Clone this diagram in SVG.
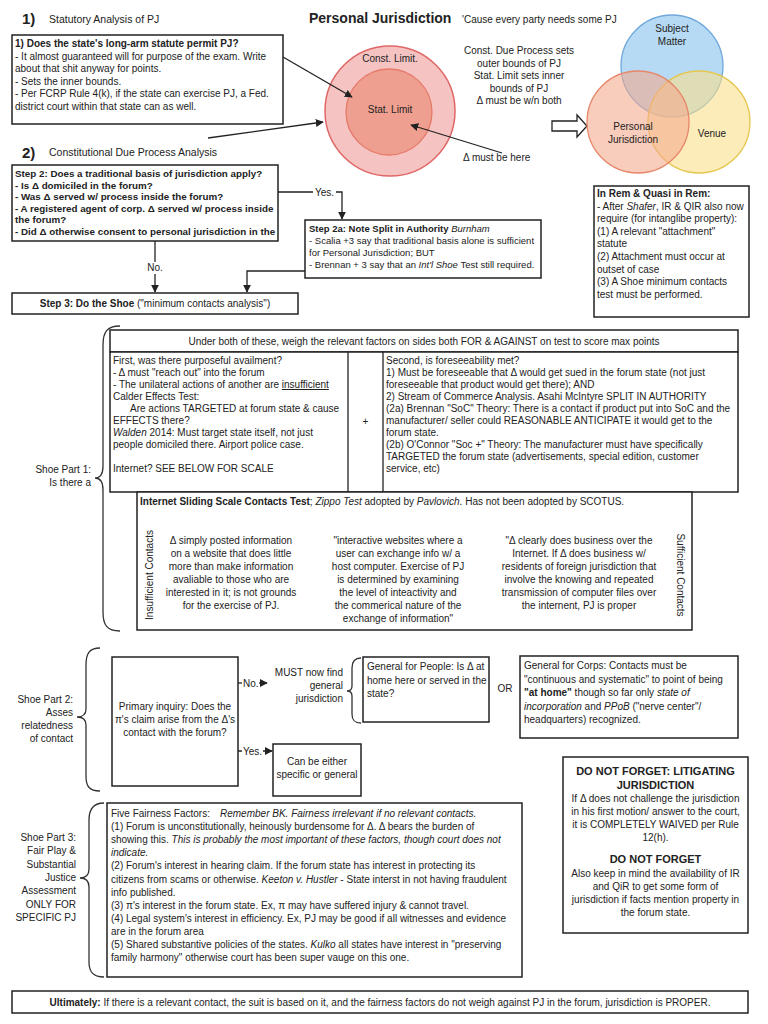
<svg xmlns="http://www.w3.org/2000/svg" width="768" height="1024" viewBox="0 0 768 1024">
<defs>
<style>
text{font-family:"Liberation Sans",Arial,sans-serif;font-size:10px;fill:#222}
.b{font-weight:bold}
.i{font-style:italic}
.c{text-anchor:middle}
.r{text-anchor:end}
.u{text-decoration:underline}
.s2{font-size:9.8px;font-weight:bold}
.s2a{font-size:9.5px}
.box{fill:#fff;stroke:#222;stroke-width:1.5}
.ln{fill:none;stroke:#222;stroke-width:1.3}
.br{fill:none;stroke:#333;stroke-width:1.3}
.bg{fill:#fff}
</style>
<marker id="ah" viewBox="0 0 10 10" refX="9" refY="5" markerWidth="8" markerHeight="8" markerUnits="userSpaceOnUse" orient="auto"><path d="M0,0 L10,5 L0,10 z" fill="#222"/></marker>
</defs>
<rect width="768" height="1024" fill="#fff"/>

<g id="title">
<text x="309" y="23" class="b" style="font-size:14px">Personal Jurisdiction</text>
<text x="462" y="23">'Cause every party needs some PJ</text>
</g>

<g id="sec1-label">
<text x="22" y="24" class="b" style="font-size:15px">1)</text>
<text x="49" y="23" style="font-size:10.5px">Statutory Analysis of PJ</text>
</g>

<g id="statutory-box">
<rect class="box" x="12" y="35" width="271" height="89"/>
<text x="15" y="47" class="b">1) Does the state's long-arm statute permit PJ?</text>
<text x="15" y="59.5">- It almost guaranteed will for purpose of the exam. Write</text>
<text x="15" y="72">about that shit anyway for points.</text>
<text x="15" y="84.5">- Sets the inner bounds.</text>
<text x="15" y="97">- Per FCRP Rule 4(k), if the state can exercise PJ, a Fed.</text>
<text x="15" y="109.5">district court within that state can as well.</text>
</g>

<g id="sec2-label">
<text x="22" y="158" class="b" style="font-size:15px">2)</text>
<text x="49" y="156" style="font-size:10.5px">Constitutional Due Process Analysis</text>
</g>

<g id="pj-circles">
<circle cx="390" cy="111" r="65" fill="#f5c4c2" stroke="#e06666" stroke-width="1.5"/>
<circle cx="389" cy="112" r="43" fill="#ef9f90" stroke="#e57a6a" stroke-width="1.3"/>
<text x="390" y="62" class="c">Const. Limit.</text>
<text x="390" y="113" class="c">Stat. Limit</text>
</g>

<g id="bounds-note">
<text x="519" y="54" class="c">Const. Due Process sets</text>
<text x="519" y="66.5" class="c">outer bounds of PJ</text>
<text x="519" y="79" class="c">Stat. Limit sets inner</text>
<text x="519" y="91.5" class="c">bounds of PJ</text>
<text x="519" y="104" class="c">Δ must be w/n both</text>
</g>

<g id="must-be-here">
<text x="463" y="161">Δ must be here</text>
</g>

<g id="block-arrow">
<polygon points="552,121 577,121 577,115 587,126 577,137 577,131 552,131" fill="#fff" stroke="#222" stroke-width="1.3"/>
</g>

<g id="venn">
<circle cx="672" cy="66" r="51" fill="#9fcdf0" fill-opacity="0.75" stroke="#6fa8dc" stroke-width="1.3"/>
<circle cx="699" cy="122" r="51" fill="#f8e08a" fill-opacity="0.6" stroke="#e6c64c" stroke-width="1.3"/>
<circle cx="638" cy="122" r="51" fill="#f5a98c" fill-opacity="0.58" stroke="#e8866a" stroke-width="1.3"/>
<text x="672" y="32" class="c">Subject</text>
<text x="672" y="45" class="c">Matter</text>
<text x="633" y="130" class="c">Personal</text>
<text x="633" y="143" class="c">Jurisdiction</text>
<text x="712" y="137" class="c">Venue</text>
</g>

<g id="step2-box">
<rect class="box" x="12" y="165" width="266" height="76"/>
<text x="15" y="177" class="s2">Step 2: Does a traditional basis of jurisdiction apply?</text>
<text x="15" y="188.5" class="s2">- Is Δ  domiciled in the forum?</text>
<text x="15" y="200" class="s2">- Was Δ served w/ process inside the forum?</text>
<text x="15" y="211.5" class="s2">- A registered agent of corp. Δ served w/ process inside</text>
<text x="15" y="223" class="s2">the forum?</text>
<text x="15" y="234.5" class="s2">- Did Δ otherwise consent to personal jurisdiction in the</text>
</g>

<g id="step2a-box">
<rect class="box" x="305" y="220" width="236" height="58"/>
<text x="309" y="232" class="s2a"><tspan class="b">Step 2a: Note Split in Authority</tspan>  <tspan class="i">Burnham</tspan></text>
<text x="309" y="244" class="s2a">- Scalia +3 say that traditional basis  alone is sufficient</text>
<text x="309" y="255.5" class="s2a">for Personal Jurisdiction; BUT</text>
<text x="309" y="267.5" class="s2a">- Brennan + 3 say that an <tspan class="i">Int'l Shoe</tspan> Test still required.</text>
</g>

<g id="inrem-box">
<rect class="box" x="594" y="186" width="155" height="131"/>
<text x="597" y="197" class="b">In Rem &amp; Quasi in Rem:</text>
<text x="597" y="209.6">- After <tspan class="i">Shafer</tspan>, IR &amp; QIR also now</text>
<text x="597" y="222.2">require (for intanglibe property):</text>
<text x="597" y="234.8">(1) A relevant "attachment"</text>
<text x="597" y="247.4">statute</text>
<text x="597" y="260">(2) Attachment must occur at</text>
<text x="597" y="272.6">outset of case</text>
<text x="597" y="285.2">(3) A Shoe minimum contacts</text>
<text x="597" y="297.8">test must be performed.</text>
</g>

<g id="step3-box">
<rect class="box" x="12" y="293" width="286" height="21"/>
<text x="155" y="307" class="c"><tspan class="b">Step 3: Do the Shoe</tspan> ("minimum contacts analysis")</text>
</g>

<g id="connectors">
<line class="ln" x1="283" y1="57" x2="352" y2="97" marker-end="url(#ah)"/>
<line class="ln" x1="208" y1="138" x2="323" y2="122" marker-end="url(#ah)"/>
<line class="ln" x1="502" y1="153" x2="411" y2="125" marker-end="url(#ah)"/>
<path class="ln" d="M278,192 H342 V219" marker-end="url(#ah)"/>
<rect class="bg" x="313" y="186" width="23" height="12"/>
<text x="324.5" y="195.5" class="c">Yes.</text>
<line class="ln" x1="155" y1="241" x2="155" y2="292" marker-end="url(#ah)"/>
<rect class="bg" x="144" y="262" width="22" height="12"/>
<text x="155" y="271" class="c">No.</text>
<path class="ln" d="M305,271 H247 V292" marker-end="url(#ah)"/>
<line class="ln" x1="238" y1="683" x2="267" y2="683" marker-end="url(#ah)"/>
<rect class="bg" x="242" y="677" width="17" height="11"/>
<text x="243" y="686.5">No.</text>
<line class="ln" x1="238" y1="751" x2="272" y2="751" marker-end="url(#ah)"/>
<rect class="bg" x="242" y="745" width="21" height="11"/>
<text x="243" y="754.5">Yes.</text>
<line class="ln" x1="160" y1="521" x2="682" y2="521" marker-end="url(#ah)"/>
<line class="ln" x1="231" y1="538" x2="231" y2="523" marker-end="url(#ah)"/>
<line class="ln" x1="398" y1="538" x2="398" y2="523" marker-end="url(#ah)"/>
<line class="ln" x1="579" y1="538" x2="579" y2="523" marker-end="url(#ah)"/>
</g>

<g id="shoe-part1-label">
<path class="br" d="M120,326 C107,326 103,332 103,345 L103,466 C103,474 100,478 95,478 C100,478 103,482 103,490 L103,612 C103,625 107,631 120,631"/>
<text x="91" y="473" class="r">Shoe Part 1:</text>
<text x="91" y="486" class="r">Is there a</text>
</g>

<g id="weigh-header">
<rect class="box" x="110" y="330" width="628" height="22"/>
<text x="424" y="345" class="c">Under both of these, weigh the relevant factors on sides both FOR &amp; AGAINST on test to score max points</text>
</g>

<g id="availment-table">
<rect class="box" x="110" y="352" width="628" height="140"/>
<line class="ln" x1="348" y1="352" x2="348" y2="492"/>
<line class="ln" x1="383" y1="352" x2="383" y2="492"/>
<text x="113" y="364">First, was there purposeful availment?</text>
<text x="113" y="376">- Δ must "reach out" into the forum</text>
<text x="113" y="388">- The unilateral actions of another are <tspan class="u">insufficient</tspan></text>
<text x="113" y="400">Calder Effects Test:</text>
<text x="130" y="412">Are actions TARGETED at forum state &amp; cause</text>
<text x="113" y="424">EFFECTS there?</text>
<text x="113" y="436"><tspan class="i">Walden</tspan> 2014: Must target state itself, not just</text>
<text x="113" y="448">people domiciled there. Airport police case.</text>
<text x="113" y="472">Internet? SEE BELOW FOR SCALE</text>
<text x="365.5" y="425" class="c">+</text>
<text x="386" y="364">Second, is foreseeability met?</text>
<text x="386" y="376">1) Must be foreseeable that Δ would get sued in the forum state (not just</text>
<text x="386" y="388">foreseeable that product would get there); AND</text>
<text x="386" y="400">2) Stream of Commerce Analysis. Asahi McIntyre SPLIT IN AUTHORITY</text>
<text x="386" y="412">(2a) Brennan "SoC" Theory: There is a contact if product put into SoC and the</text>
<text x="386" y="424">manufacturer/ seller could REASONABLE ANTICIPATE it would get to the</text>
<text x="386" y="436">forum state.</text>
<text x="386" y="448">(2b) O'Connor "Soc +" Theory: The manufacturer must have specifically</text>
<text x="386" y="460">TARGETED the forum state (advertisements, special edition, customer</text>
<text x="386" y="472">service, etc)</text>
</g>

<g id="internet-scale">
<rect class="box" x="137" y="492" width="555" height="138"/>
<text x="140" y="505"><tspan class="b">Internet Sliding Scale Contacts Test</tspan>; <tspan class="i">Zippo Test</tspan> adopted by <tspan class="i">Pavlovich</tspan>. Has not been adopted by SCOTUS.</text>
<text transform="translate(153,575) rotate(-90)" class="c">Insufficient Contacts</text>
<text transform="translate(677,575) rotate(90)" class="c">Sufficient Contacts</text>
<text x="231" y="544" class="c">Δ simply posted information</text>
<text x="231" y="557" class="c">on a website that does little</text>
<text x="231" y="570" class="c">more than make information</text>
<text x="231" y="583" class="c">avaliable to those who are</text>
<text x="231" y="596" class="c">interested in it; is not grounds</text>
<text x="231" y="609" class="c">for the exercise of PJ.</text>
<text x="398" y="544" class="c">"interactive websites where a</text>
<text x="398" y="557" class="c">user can exchange info w/ a</text>
<text x="398" y="570" class="c">host computer. Exercise of PJ</text>
<text x="398" y="583" class="c">is determined by examining</text>
<text x="398" y="596" class="c">the level of inteactivity and</text>
<text x="398" y="609" class="c">the commerical nature of the</text>
<text x="398" y="622" class="c">exchange of information"</text>
<text x="579" y="544" class="c">"Δ clearly does business over the</text>
<text x="579" y="557" class="c">Internet. If Δ does business w/</text>
<text x="579" y="570" class="c">residents of foreign jurisdiction that</text>
<text x="579" y="583" class="c">involve the knowing and repeated</text>
<text x="579" y="596" class="c">transmission of computer files over</text>
<text x="579" y="609" class="c">the internent, PJ is proper</text>
</g>

<g id="shoe-part2-label">
<path class="br" d="M100,648 C89,648 86,654 86,665 L86,709 C86,714 83,717 77,717 C83,717 86,720 86,725 L86,776 C86,786 89,791 100,791"/>
<text x="73" y="703" class="r">Shoe Part 2:</text>
<text x="73" y="716" class="r">Asses</text>
<text x="73" y="729" class="r">relatedness</text>
<text x="73" y="742" class="r">of contact</text>
</g>

<g id="primary-inquiry">
<rect class="box" x="112" y="657" width="126" height="129"/>
<text x="175" y="710" class="c">Primary inquiry: Does the</text>
<text x="175" y="723" class="c">π's claim arise from the Δ's</text>
<text x="175" y="736" class="c">contact with the forum?</text>
</g>

<g id="must-general">
<text x="343" y="676" class="r">MUST now find</text>
<text x="343" y="689" class="r">general</text>
<text x="343" y="702" class="r">jurisdiction</text>
<path class="br" d="M361,658 C354,658 352,662 352,668 L352,686 C352,689 350,691 347,691 C350,691 352,693 352,696 L352,714 C352,720 354,723 361,723"/>
</g>

<g id="general-people">
<rect class="box" x="363" y="657" width="126" height="65"/>
<text x="367" y="670">General for People: Is Δ at</text>
<text x="367" y="683.5">home here or served in the</text>
<text x="367" y="697">state?</text>
</g>

<g id="or-label">
<text x="505" y="692" class="c">OR</text>
</g>

<g id="general-corps">
<rect class="box" x="520" y="656" width="218" height="82"/>
<text x="524" y="669">General for Corps: Contacts must be</text>
<text x="524" y="682.5">"continuous and systematic" to point of being</text>
<text x="524" y="696"><tspan class="b">"at home"</tspan> though so far only <tspan class="i">state of</tspan></text>
<text x="524" y="709.5"><tspan class="i">incorporation</tspan> and <tspan class="i">PPoB</tspan> ("nerve center"/</text>
<text x="524" y="723">headquarters) recognized.</text>
</g>

<g id="either-box">
<rect class="box" x="273" y="744" width="88" height="52"/>
<text x="317" y="765" class="c">Can be either</text>
<text x="317" y="778" class="c">specific or general</text>
</g>

<g id="shoe-part3-label">
<path class="br" d="M104,803 C93,803 89,809 89,820 L89,869 C89,875 86,878 80,878 C86,878 89,881 89,887 L89,962 C89,972 93,977 104,977"/>
<text x="76" y="841" class="r">Shoe Part 3:</text>
<text x="76" y="854.3" class="r">Fair Play &amp;</text>
<text x="76" y="867.6" class="r">Substantial</text>
<text x="76" y="881" class="r">Justice</text>
<text x="76" y="894.3" class="r">Assessment</text>
<text x="76" y="907.6" class="r">ONLY FOR</text>
<text x="76" y="921" class="r">SPECIFIC PJ</text>
</g>

<g id="fairness-box">
<rect class="box" x="107" y="803" width="415" height="174"/>
<text x="111" y="817">Five Fairness Factors:<tspan x="220" class="i">Remember BK. Fairness irrelevant if no relevant contacts.</tspan></text>
<text x="111" y="830.1">(1) Forum is unconstitutionally, heinously burdensome for Δ. Δ bears the burden of</text>
<text x="111" y="843.2">showing this. <tspan class="i">This is probably the most important of these factors, though court does not</tspan></text>
<text x="111" y="856.3" class="i">indicate.</text>
<text x="111" y="869.4">(2) Forum's interest in hearing claim. If the forum state has interest in protecting its</text>
<text x="111" y="882.5">citizens from scams or otherwise. <tspan class="i">Keeton v. Hustler</tspan> - State interst in not having fraudulent</text>
<text x="111" y="895.6">info published.</text>
<text x="111" y="908.7">(3) π's interest in the forum state. Ex, π may have suffered injury &amp; cannot travel.</text>
<text x="111" y="921.8">(4) Legal system's interest in efficiency. Ex, PJ may be good if all witnesses and evidence</text>
<text x="111" y="934.9">are in the forum area</text>
<text x="111" y="948">(5) Shared substantive policies of the states. <tspan class="i">Kulko</tspan> all states have interest in "preserving</text>
<text x="111" y="961.1">family harmony" otherwise court has been super vauge on this one.</text>
</g>

<g id="do-not-forget">
<rect class="box" x="563" y="757" width="185" height="176"/>
<text x="655.5" y="775" class="c b" style="font-size:11px">DO NOT FORGET: LITIGATING</text>
<text x="655.5" y="789" class="c b" style="font-size:11px">JURISDICTION</text>
<text x="655.5" y="802" class="c">If Δ does not challenge the jurisdiction</text>
<text x="655.5" y="815" class="c">in his first motion/ answer to the court,</text>
<text x="655.5" y="828" class="c">it is COMPLETELY WAIVED per Rule</text>
<text x="655.5" y="841" class="c">12(h).</text>
<text x="655.5" y="863" class="c b" style="font-size:11px">DO NOT FORGET</text>
<text x="655.5" y="877" class="c">Also keep in mind the availability of IR</text>
<text x="655.5" y="890" class="c">and QiR to get some form of</text>
<text x="655.5" y="903" class="c">jurisdiction if facts mention property in</text>
<text x="655.5" y="916" class="c">the forum state.</text>
</g>

<g id="ultimately">
<rect class="box" x="12" y="991" width="736" height="22"/>
<text x="380" y="1006" class="c"><tspan class="b">Ultimately:</tspan> If there is a relevant contact, the suit is based on it, and the fairness factors do not weigh against PJ in the forum, jurisdiction is PROPER.</text>
</g>
</svg>
